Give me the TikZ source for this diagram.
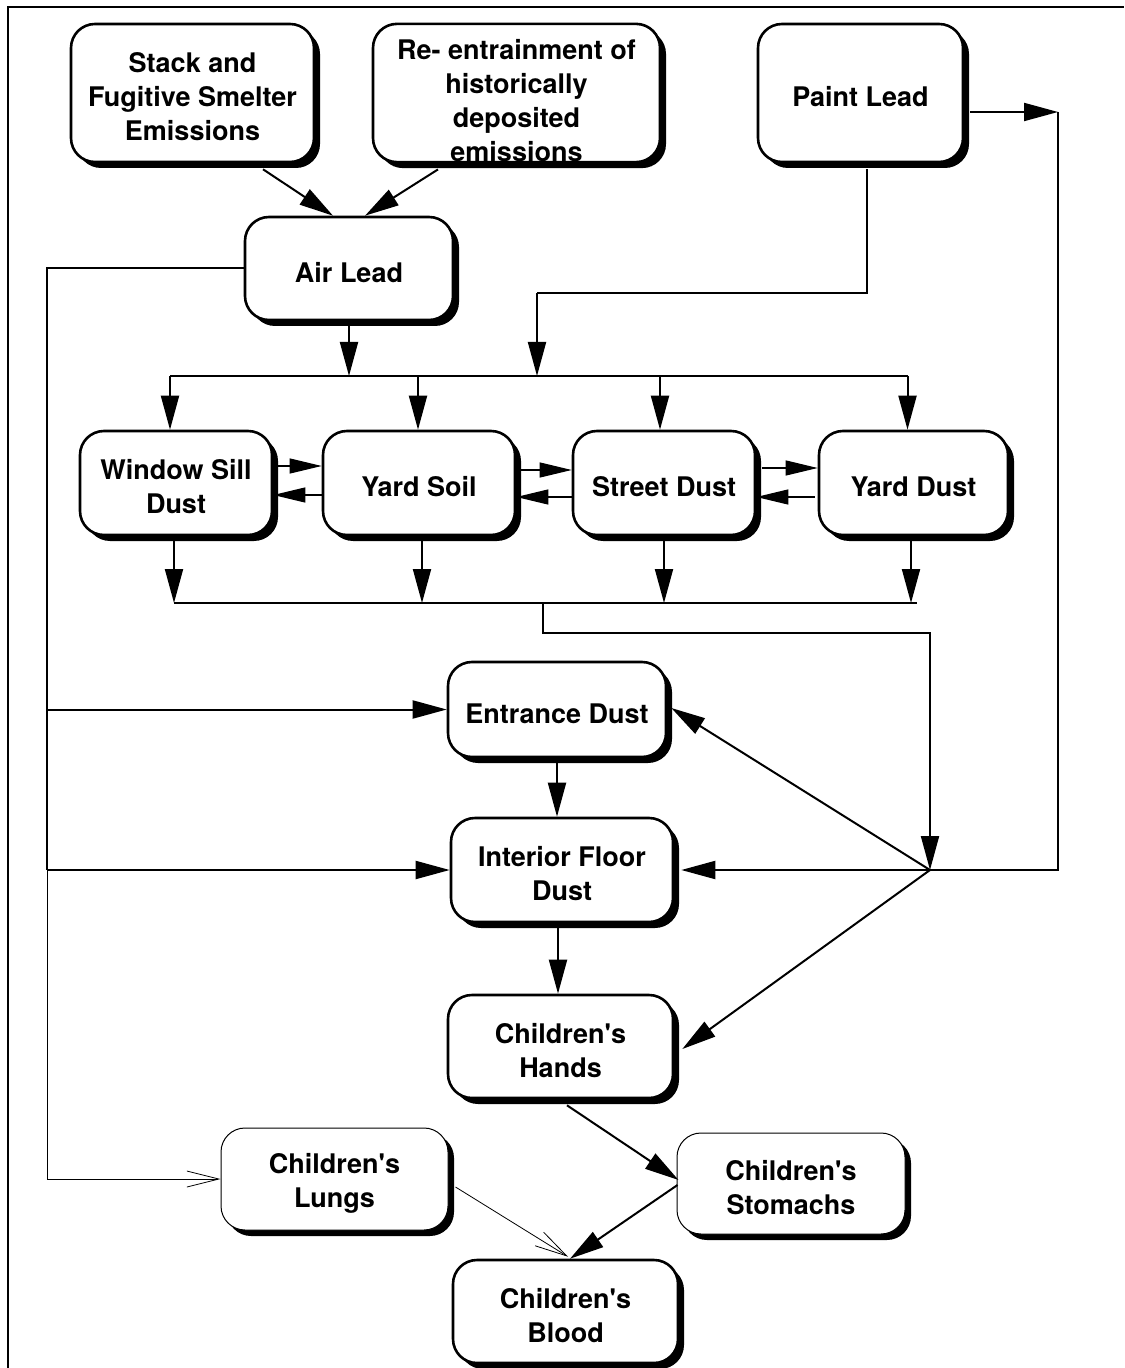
\documentclass[tikz,border=0pt]{standalone}
\usepackage{fontspec}
\setmainfont{TeX Gyre Heros}
\usetikzlibrary{arrows.meta,shadows,calc}
\newcommand{\boxstrut}{\rule{0pt}{14pt}}
\begin{document}
\begin{tikzpicture}[x=0.5pt,y=-0.5pt,
  box/.style={draw, line width=1.3pt, rounded corners=12pt, fill=white, align=center, inner sep=0pt,
    font=\fontsize{13.5}{17}\selectfont\bfseries,
    execute at begin node={\boxstrut},
    drop shadow={shadow xshift=3pt,shadow yshift=-3pt,fill=black,opacity=1}},
  thinbox/.style={box, line width=0.5pt},
  arr/.style={line width=1pt, -{Triangle[length=17pt,width=9pt]}},
  sarr/.style={line width=0.6pt, -{Triangle[length=16pt,width=7.5pt]}},
  oarr/.style={line width=0.4pt, -{Straight Barb[length=16pt,width=8pt,line width=0.4pt]}},
  ln/.style={line width=1pt},
]
\useasboundingbox (0,0) rectangle (1124,1368);
% frame
\draw[line width=1pt] (7.5,1368) -- (7.5,7.5) -- (1124,7.5);

% nodes
\node[box, minimum width=121.5pt, minimum height=69pt] (stack) at (192.5,93) {\boxstrut Stack and\\Fugitive Smelter\\Emissions};
\node[box, minimum width=143.5pt, minimum height=69pt] (reent) at (516.5,93) {\rule{0pt}{18pt}Re- entrainment of\\historically\\deposited\\emissions};
\node[box, minimum width=102.5pt, minimum height=69pt] (paint) at (860.5,93) {Paint Lead};
\node[box, minimum width=104pt, minimum height=51.5pt] (air) at (349,268.5) {Air Lead};
\node[box, minimum width=96pt, minimum height=52pt] (window) at (176,483) {\boxstrut Window Sill\\Dust};
\node[box, minimum width=96pt, minimum height=52pt] (soil) at (419,483) {Yard Soil};
\node[box, minimum width=91pt, minimum height=52pt] (street) at (664,483) {Street Dust};
\node[box, minimum width=94.5pt, minimum height=52pt] (ydust) at (913.5,483) {Yard Dust};
\node[box, minimum width=109pt, minimum height=47.5pt] (entr) at (557,709.5) {Entrance Dust};
\node[box, minimum width=111pt, minimum height=52pt] (floor) at (562,870) {\boxstrut Interior Floor\\Dust};
\node[box, minimum width=112.5pt, minimum height=51.5pt] (hands) at (560.5,1046.5) {\boxstrut Children\textquotesingle s\\Hands};
\node[thinbox, minimum width=113.5pt, minimum height=51pt] (lungs) at (334.5,1179) {\boxstrut Children\textquotesingle s\\Lungs};
\node[thinbox, minimum width=114pt, minimum height=50.5pt] (stom) at (791,1183.5) {\boxstrut Children\textquotesingle s\\Stomachs};
\node[box, minimum width=112.5pt, minimum height=51.5pt] (blood) at (565.5,1311.5) {\boxstrut Children\textquotesingle s\\Blood};

% helper coordinates
\coordinate (bus) at (0,376);
\coordinate (bus2) at (0,603);
\coordinate (pk) at (537,293);
\coordinate (rt) at (1058,112);
\coordinate (jn) at (930,870);
\coordinate (drop) at (543,633);
\coordinate (lx) at (47,0);

% sources to air
\draw[arr] ($(stack.south)+(70.5,6)$) -- ($(air.north)+(-16,0)$);
\draw[arr] ($(reent.south)+(-78.5,6)$) -- ($(air.north)+(16,0)$);
% paint lead
\draw[ln] ($(paint.south)+(6.5,6)$) |- (pk);
\draw[arr] (pk) -- (pk |- bus);
\draw[arr] ($(paint.east)+(6,19)$) -- (rt);
\draw[ln] (rt) |- (jn);
% air down
\draw[arr] (air.south) -- (air.south |- bus);

% top bus
\coordinate (d1) at ($(window.north)+(-6,0)$);
\coordinate (d2) at ($(soil.north)+(-1,0)$);
\coordinate (d3) at ($(street.north)+(-4,0)$);
\coordinate (d4) at ($(ydust.north)+(-6,0)$);
\draw[ln] (d1 |- bus) -- (d4 |- bus);
\foreach \d in {d1,d2,d3,d4} \draw[arr] (\d |- bus) -- (\d);

% row exchanges
\draw[sarr] ($(window.east)+(5,-17)$) -- ($(soil.west)+(0,-17)$);
\draw[sarr] ($(soil.west)+(0,12)$) -- ($(window.east)+(0,12)$);
\draw[sarr] ($(soil.east)+(5,-13)$) -- ($(street.west)+(0,-13)$);
\draw[sarr] ($(street.west)+(0,14)$) -- ($(soil.east)+(0,14)$);
\draw[sarr] ($(street.east)+(6,-15)$) -- ($(ydust.west)+(0,-15)$);
\draw[sarr] ($(ydust.west)+(-3,14)$) -- ($(street.east)+(0,14)$);

% bottom bus
\coordinate (e1) at ($(window.south)+(-2,0)$);
\coordinate (e2) at ($(soil.south)+(3,0)$);
\coordinate (e3) at ($(street.south)+(0,0)$);
\coordinate (e4) at ($(ydust.south)+(-2.5,0)$);
\foreach \e in {e1,e2,e3,e4} \draw[arr] (\e) -- (\e |- bus2);
\draw[ln] (e1 |- bus2) -- ($(e4 |- bus2)+(6,0)$);
\draw[arr] (drop |- bus2) -- (drop) -| (jn);

% left feed from air lead
\draw[ln] (air.west) -| (lx |- jn);
\draw[arr] (lx |- entr.west) -- (entr.west);
\draw[arr] (lx |- floor.west) -- (floor.west);
\draw[oarr] (lx |- floor.west) |- (lungs.west);

% junction arrows
\draw[arr] (jn) -- ($(entr.east)+(4,-1.5)$);
\draw[arr] (jn) -- ($(floor.east)+(7,0)$);
\draw[arr] (jn) -- ($(hands.east)+(8,2.5)$);

% indoor chain
\draw[arr] (entr.south) -- (entr.south |- floor.north);
\draw[arr] ($(floor.south)+(-4,0)$) -- ($(floor.south |- hands.north)+(-4,0)$);
\draw[arr] ($(hands.south)+(6.5,6)$) -- ($(stom.west)+(2,-3.5)$);
\draw[arr] ($(stom.west)+(1,1.5)$) -- ($(blood.north)+(4.5,0)$);
\draw[oarr] ($(lungs.east)+(7,8)$) -- ($(blood.north)+(2.5,-2)$);
\end{tikzpicture}
\end{document}
